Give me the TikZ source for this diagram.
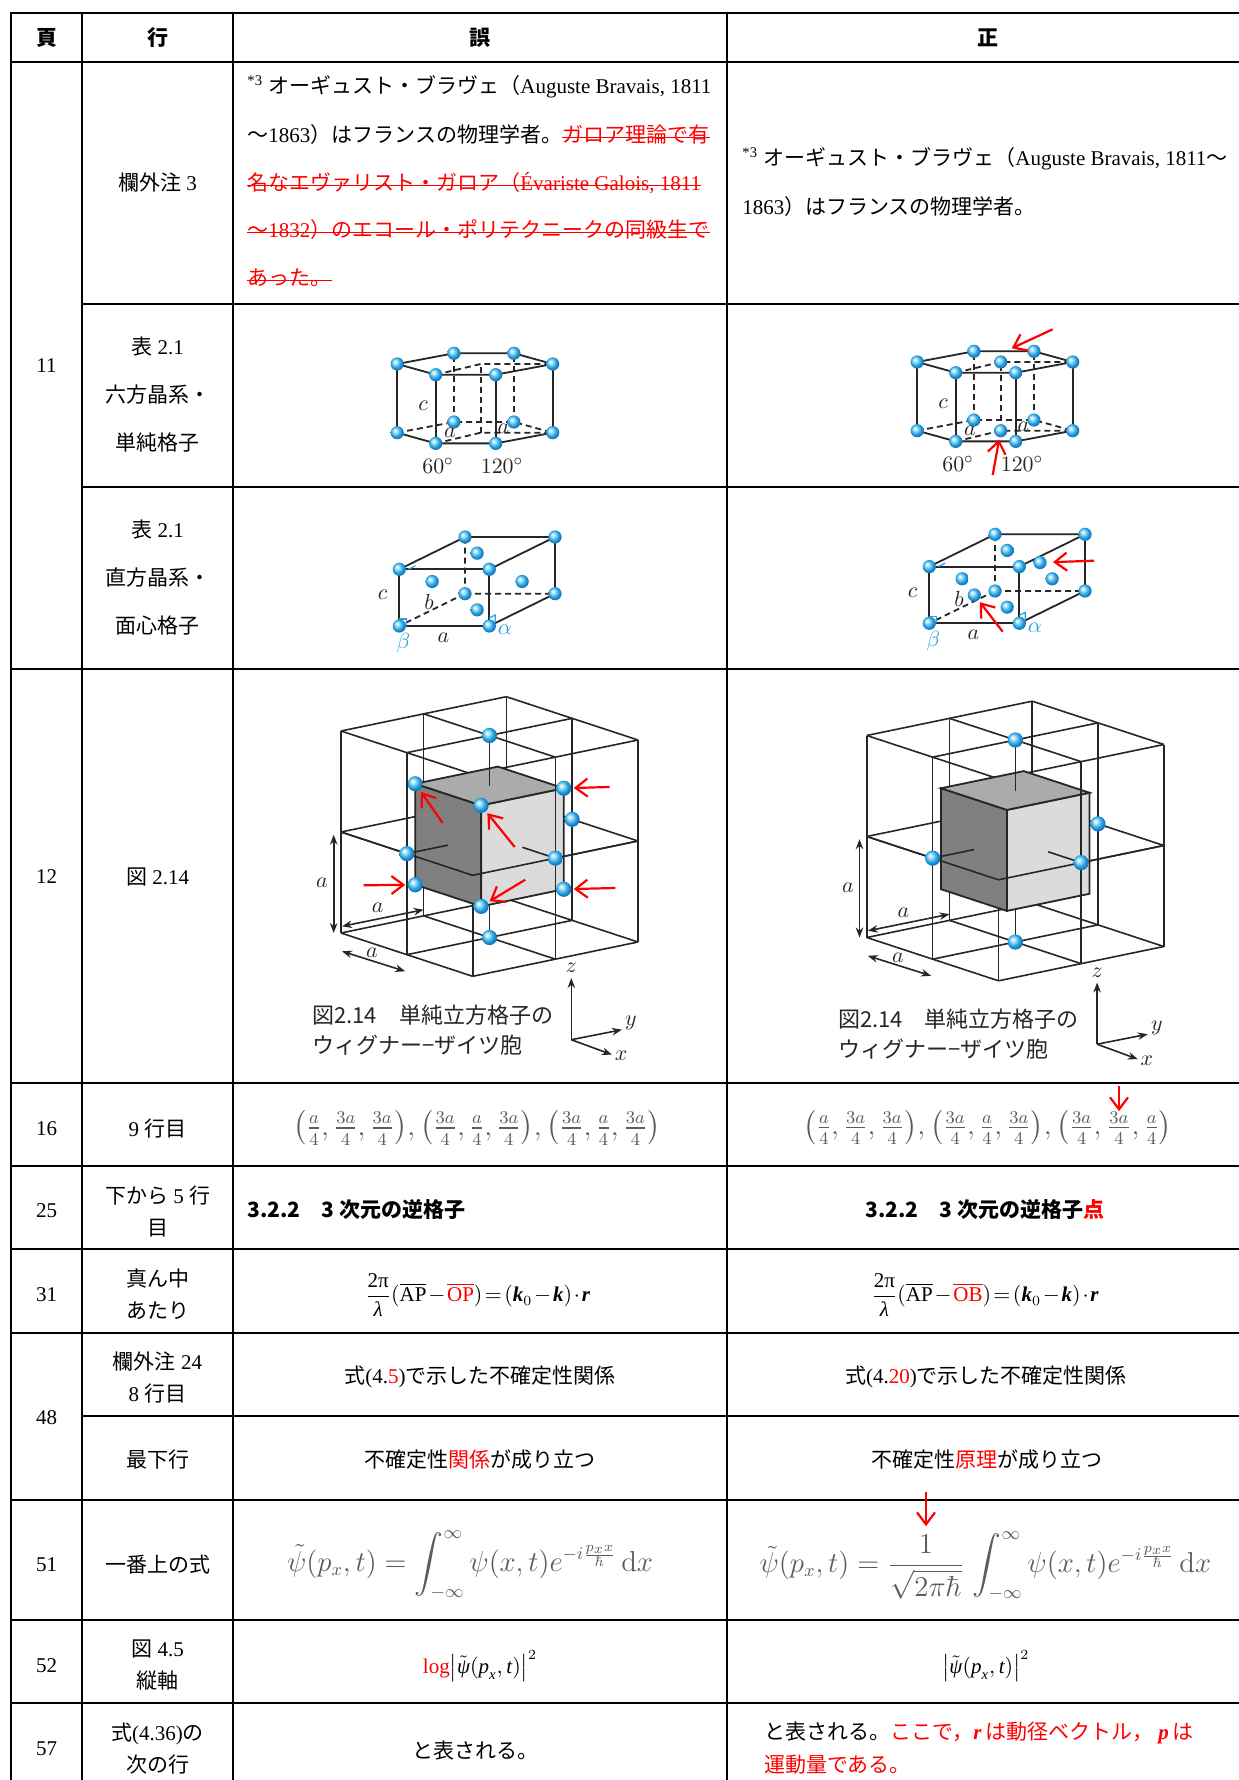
\documentclass[tikz,border=0pt]{standalone}
\usepackage{amsmath}
\usepackage[no-math]{fontspec}
\setmainfont{Liberation Serif}
\newfontfamily\jpfont{Noto Sans CJK JP}
\newcommand{\jp}[1]{{\jpfont #1}}
\newcommand{\ti}[1]{\text{\itshape #1}}
\newcommand{\bi}[1]{\text{\bfseries\itshape #1}}
\usetikzlibrary{arrows.meta,positioning}

\definecolor{ink}{gray}{0.15}
\definecolor{scan}{gray}{0.36}
\definecolor{atomblue}{RGB}{40,165,225}
\definecolor{atomlight}{RGB}{175,228,250}
\definecolor{atomdark}{RGB}{25,120,190}
\definecolor{facedark}{gray}{0.5}
\definecolor{facetop}{gray}{0.67}
\definecolor{facelight}{gray}{0.86}

\pgfdeclareradialshading{atomball}{\pgfqpoint{-9bp}{9bp}}{%
  color(0bp)=(white); color(7bp)=(atomlight); color(18bp)=(atomblue);
  color(25bp)=(atomdark); color(50bp)=(atomdark)}

\tikzset{
  rule/.style={line width=1.3pt, line cap=rect},
  txt/.style={inner sep=0pt, font=\fontsize{10.5pt}{16pt}\selectfont},
  tall/.style={txt, align=center, font=\fontsize{10.5pt}{24pt}\selectfont},
  mid/.style={txt, align=center},
  head/.style={inner sep=0pt, font=\fontsize{10.5pt}{12pt}\selectfont\jpfont\bfseries},
  formula/.style={inner sep=0pt, text=scan, font=\fontsize{13.5pt}{16pt}\selectfont},
  bigformula/.style={formula, font=\fontsize{13.5pt}{16pt}\selectfont},
  strike/.style={draw=red, line width=0.6pt},
  edge/.style={draw=ink, line width=0.9pt},
  hidden/.style={edge, dash pattern=on 3pt off 2pt},
  frame/.style={draw=ink, line width=0.8pt},
  atom/.style={circle, inner sep=0pt, minimum size=6.6pt, shade, shading=atomball},
  wsatom/.style={atom, minimum size=7.6pt},
  lbl/.style={inner sep=0pt, text=ink, font=\fontsize{11pt}{13pt}\selectfont},
  wscaption/.style={inner sep=0pt, text=ink, font=\fontsize{11pt}{13pt}\selectfont\jpfont},
  anglemark/.style={draw=atomblue, line width=0.6pt},
  redarrow/.style={draw=red, line width=1.1pt, -{Straight Barb[length=6pt,width=9pt]}},
  dimarrow/.style={draw=ink, line width=0.8pt, {Stealth[length=5pt]}-{Stealth[length=5pt]}},
  axisarrow/.style={draw=ink, line width=0.8pt, -{Stealth[length=5pt]}},
  ws3d/.style={x={(32.925pt,-10.825pt)}, y={(41.325pt,8.575pt)}, z={(0pt,50.5pt)}},
  % hexagonal prism, origin at the centre of the bottom face
  hexprism/.pic={
    \foreach \n/\u/\v in {L/-83.5/0,BL/-26.8/-10.7,BR/33.2/-10.7,R/72/0,FR/15/10.7,FL/-45/10.7,C/0/0}{
      \coordinate (-b\n) at (\u,\v);
      \coordinate (-t\n) at (\u,\v-68.7);
    }
    % hidden edges
    \draw[hidden] (-bL) -- (-bBL) -- (-bBR) -- (-bR);
    \draw[hidden] (-bFL) -- (-bC) -- (-bR);
    \draw[hidden] (-tFL) -- (-tC) -- (-tR);
    \draw[hidden] (-bBL) -- (-tBL) (-bBR) -- (-tBR) (-bC) -- (-tC);
    % visible edges
    \draw[edge] (-tL) -- (-tBL) -- (-tBR) -- (-tR) -- (-tFR) -- (-tFL) -- cycle;
    \draw[edge] (-bL) -- (-bFL) -- (-bFR) -- (-bR);
    \draw[edge] (-bL) -- (-tL) (-bFL) -- (-tFL) (-bFR) -- (-tFR) (-bR) -- (-tR);
    % atoms on the corners
    \foreach \n in {L,BL,BR,R,FR,FL}{
      \node[atom] (-ab\n) at (-b\n) {};
      \node[atom] (-at\n) at (-t\n) {};
    }
    \node[lbl] (-lc) at (-57.7,-26.7) {$c$};
    \node[lbl] (-la) at (-30.7,0) {$a$};
    \node[lbl] (-lb) at (22.6,-4.4) {$a$};
    \node[lbl] (-l60) at (-42.7,33.3) {$60^\circ$};
    \node[lbl] (-l120) at (21.3,33.3) {$120^\circ$};
  },
  % rectangular box, origin at the front bottom left corner
  orthocell/.pic={
    \coordinate (-fBL) at (0,0);
    \coordinate (-fBR) at (90,0);
    \coordinate (-fTL) at (0,-56.7);
    \coordinate (-fTR) at (90,-56.7);
    \coordinate (-kBL) at (65.7,-32.3);
    \coordinate (-kBR) at (155.7,-32.3);
    \coordinate (-kTL) at (65.7,-89);
    \coordinate (-kTR) at (155.7,-89);
    % hidden edges
    \draw[hidden] (-kBL) -- (-fBL) (-kBL) -- (-kBR) (-kBL) -- (-kTL);
    % visible edges
    \draw[edge] (-fBL) -- (-fBR) -- (-fTR) -- (-fTL) -- cycle;
    \draw[edge] (-fTL) -- (-kTL) -- (-kTR) -- (-fTR);
    \draw[edge] (-kTR) -- (-kBR) -- (-fBR);
    % right angle marks
    \draw[anglemark] (0,-7) -- (7,-7) -- (7,0);
    \draw[anglemark] (90,-8) -- (96,-11) -- (96,-3);
    \draw[anglemark] (9,-56.7) -- (16,-60.2);
    % corner and face atoms
    \foreach \n in {fBL,fBR,fTL,fTR,kBL,kBR,kTL,kTR}
      \node[atom] (-a\n) at (-\n) {};
    \node[atom] (-top) at (77.85,-72.85) {};
    \node[atom] (-bot) at (77.85,-16.15) {};
    \node[atom] (-lft) at (32.85,-44.5) {};
    \node[atom] (-rgt) at (122.85,-44.5) {};
    \node[lbl] (-lc) at (-16.6,-31) {$c$};
    \node[lbl] (-lb) at (29.7,-24.3) {$b$};
    \node[lbl] (-la) at (44,11.3) {$a$};
    \node[lbl, text=atomblue] (-lbeta) at (4,17.3) {$\beta$};
    \node[lbl, text=atomblue] (-lalpha) at (105.7,4) {$\alpha$};
  },
  % eight cubes with the Wigner-Seitz cell, origin at the left bottom corner
  wscell/.pic={
    \begin{scope}[ws3d]
      % lattice lines
      \foreach \p in {0,1,2}{\foreach \q in {0,1,2}{
        \draw[frame] (\p,\q,0) -- (\p,\q,2);
        \draw[frame] (\p,0,\q) -- (\p,2,\q);
        \draw[frame] (0,\p,\q) -- (2,\p,\q);
      }}
      % the cell
      \filldraw[edge, fill=facedark] (0.5,0.5,0.5) -- (1.5,0.5,0.5) -- (1.5,0.5,1.5) -- (0.5,0.5,1.5) -- cycle;
      \filldraw[edge, fill=facelight] (1.5,0.5,0.5) -- (1.5,1.5,0.5) -- (1.5,1.5,1.5) -- (1.5,0.5,1.5) -- cycle;
      \filldraw[edge, fill=facetop] (0.5,0.5,1.5) -- (1.5,0.5,1.5) -- (1.5,1.5,1.5) -- (0.5,1.5,1.5) -- cycle;
      % lines in front of the cell
      \draw[frame] (0,0,1) -- (2,0,1) -- (2,2,1);
      \draw[frame] (2,1,0) -- (2,1,2);
      \draw[frame] (1,1,1.5) -- (1,1,2);
      \draw[frame] (1,0,1) -- (1,0.5,1);
      \draw[frame] (1.5,1,1) -- (2,1,1);
      % nearest neighbours
      \node[wsatom] (-top) at (1,1,2) {};
      \node[wsatom] (-bot) at (1,1,0) {};
      \node[wsatom] (-frt) at (1,0,1) {};
      \node[wsatom] (-bak) at (1,2,1) {};
      \node[wsatom] (-rgt) at (2,1,1) {};
    \end{scope}
    % lattice constant
    \coordinate (-dz0) at (-7.3,-98.3);
    \coordinate (-dz1) at (-7.3,0);
    \coordinate (-dy0) at (1,-6.7);
    \coordinate (-dy1) at (82.7,-23.3);
    \coordinate (-dx0) at (1,18.3);
    \coordinate (-dx1) at (64.3,38.3);
    \draw[dimarrow] (-dz0) -- (-dz1);
    \draw[dimarrow] (-dy0) -- (-dy1);
    \draw[dimarrow] (-dx0) -- (-dx1);
    \node[lbl] (-az) at (-19,-50) {$a$};
    \node[lbl] (-ay) at (36.7,-25) {$a$};
    \node[lbl] (-ax) at (31,20) {$a$};
    % axes
    \coordinate (-o) at (230.3,106.7);
    \coordinate (-ez) at (230.3,45);
    \coordinate (-ey) at (281,96.7);
    \coordinate (-ex) at (271,121.7);
    \draw[axisarrow] (-o) -- (-ez);
    \draw[axisarrow] (-o) -- (-ey);
    \draw[axisarrow] (-o) -- (-ex);
    \node[lbl] (-lz) at (230.3,35) {$z$};
    \node[lbl] (-ly) at (290,90) {$y$};
    \node[lbl] (-lx) at (280,123) {$x$};
    % caption
    \node[wscaption, anchor=west] (-cap1) at (-29,81.7) {図2.14　単純立方格子の};
    \node[wscaption, anchor=west] (-cap2) at (-29,111.7) {ウィグナー−ザイツ胞};
  }
}

\begin{document}
\begin{tikzpicture}[x=0.5pt, y=-0.5pt]
\useasboundingbox (0,0) rectangle (1238,1780);
\fill[white] (0,0) rectangle (1238,1780);

% Table rules
\foreach \y in {13,62,669,1083,1166,1249,1333,1500,1620,1703}
  \draw[rule] (11,\y) -- (1260,\y);
\foreach \y in {304,487,1416}
  \draw[rule] (82,\y) -- (1260,\y);
\foreach \x in {11,82,233,727}
  \draw[rule] (\x,13) -- (\x,1800);

% Header
\node[head] (hPage) at (46.5,37.5) {頁};
\node[head] (hLine) at (157.5,37.5) {行};
\node[head] (hErr) at (480,37.5) {誤};
\node[head] (hCor) at (988,37.5) {正};

% Page numbers
\node[txt] (p11) at (46.5,366) {11};
\node[txt] (p12) at (46.5,877) {12};
\node[txt] (p16) at (46.5,1128.5) {16};
\node[txt] (p25) at (46.5,1211) {25};
\node[txt] (p31) at (46.5,1295) {31};
\node[txt] (p48) at (46.5,1418) {48};
\node[txt] (p51) at (46.5,1565) {51};
\node[txt] (p52) at (46.5,1666) {52};
\node[txt] (p57) at (46.5,1749) {57};

% Line column
\node[txt] (l3) at (157.5,183) {\jp{欄外注} 3};
\node[tall] (lhex) at (157.5,395) {\jp{表} 2.1\\\jp{六方晶系・}\\\jp{単純格子}};
\node[tall] (lfcc) at (157.5,578) {\jp{表} 2.1\\\jp{直方晶系・}\\\jp{面心格子}};
\node[txt] (lws) at (157.5,877) {\jp{図} 2.14};
\node[txt] (l16) at (157.5,1128.5) {9 \jp{行目}};
\node[mid] (l25) at (157.5,1211) {\jp{下から} 5 \jp{行}\\\jp{目}};
\node[mid] (l31) at (157.5,1294.5) {\jp{真ん中}\\\jp{あたり}};
\node[mid] (l48a) at (157.5,1378) {\jp{欄外注} 24\\8 \jp{行目}};
\node[txt] (l48b) at (157.5,1460) {\jp{最下行}};
\node[txt] (l51) at (157.5,1565) {\jp{一番上の式}};
\node[mid] (l52) at (157.5,1665) {\jp{図} 4.5\\\jp{縦軸}};
\node[mid] (l57) at (157.5,1749) {\jp{式}(4.36)\jp{の}\\\jp{次の行}};

% Footnote 3, wrong
\node[txt, anchor=west] (err3a) at (247,87) {\textsuperscript{*3}\ \jp{オーギュスト・ブラヴェ（}Auguste Bravais, 1811};
\node[txt, anchor=west] (err3b) at (247,135) {\jp{～}1863\jp{）はフランスの物理学者。}};
\node[txt, anchor=base west, text=red] (err3bx) at (err3b.base east) {\jp{ガロア理論で有}};
\node[txt, anchor=west, text=red] (err3c) at (247,183) {\jp{名なエヴァリスト・ガロア（}Évariste Galois, 1811};
\node[txt, anchor=west, text=red] (err3d) at (247,230) {\jp{～}1832\jp{）のエコール・ポリテクニークの同級生で}};
\node[txt, anchor=west, text=red] (err3e) at (247,278) {\jp{あった。}};
\foreach \n in {err3bx,err3c,err3d,err3e}
  \draw[strike] ([yshift=-1.4pt]\n.west) -- ([yshift=-1.4pt]\n.east);

% Footnote 3, correct
\node[txt, anchor=west] (cor3a) at (742,159) {\textsuperscript{*3}\ \jp{オーギュスト・ブラヴェ（}Auguste Bravais, 1811\jp{～}};
\node[txt, anchor=west] (cor3b) at (742,206.6) {1863\jp{）はフランスの物理学者。}};

% Hexagonal cells
\pic (hexErr) at (480.7,432.7) {hexprism};
\pic (hexCor) at (1000.7,430.7) {hexprism};
\node[atom] (hexCorT) at (hexCor-tC) {};
\node[atom] (hexCorB) at (hexCor-bC) {};
\coordinate (hexTail1) at (1052.7,329.3);
\coordinate (hexTip1) at (1011.7,348.3);
\coordinate (hexTail2) at (992.7,475);
\draw[redarrow] (hexTail1) -- (hexTip1);
\draw[redarrow, shorten >=1pt] (hexTail2) -- (hexCorB);

% Face centred cells
\pic (fccErr) at (399.3,626) {orthocell};
\pic (fccCor) at (929.3,623.3) {orthocell};
\node[atom] (fccCorF) at (974.3,595) {};
\node[atom] (fccCorK) at (1040,562.6) {};
\coordinate (fccTail1) at (1094,560.7);
\coordinate (fccTail2) at (1002.7,631.7);
\draw[redarrow, shorten >=3pt] (fccTail1) -- (fccCorK);
\draw[redarrow, shorten >=1pt] (fccTail2) -- (fccCorF);

% Wigner-Seitz cells
\pic (wsErr) at (341,933) {wscell};
\pic (wsCor) at (866.8,937.5) {wscell};
\begin{scope}[shift={(341,933)}, ws3d]
  \foreach \i/\a/\b/\c in {1/0.5/0.5/1.5, 2/1.5/0.5/1.5, 3/1.5/1.5/1.5, 4/0.5/0.5/0.5, 5/1.5/0.5/0.5, 6/1.5/1.5/0.5}
    \node[wsatom] (wsc\i) at (\a,\b,\c) {};
\end{scope}
\foreach \i/\u/\v in {1/442.7/823, 2/514.7/847, 3/609.7/787, 4/363.7/885.3, 5/525.3/879.7, 6/615.3/888}{
  \coordinate (wst\i) at (\u,\v);
  \draw[redarrow, shorten >=1pt] (wst\i) -- (wsc\i);
}

% Row 16
\node[formula] (err16) at (477,1128) {$\bigl(\frac{a}{4},\frac{3a}{4},\frac{3a}{4}\bigr),\bigl(\frac{3a}{4},\frac{a}{4},\frac{3a}{4}\bigr),\bigl(\frac{3a}{4},\frac{a}{4},\frac{3a}{4}\bigr)$};
\node[formula] (cor16b) at (1119,1128) {$\frac{3a}{4}$};
\node[formula, anchor=base east] (cor16a) at (cor16b.base west) {$\bigl(\frac{a}{4},\frac{3a}{4},\frac{3a}{4}\bigr),\bigl(\frac{3a}{4},\frac{a}{4},\frac{3a}{4}\bigr),\bigl(\frac{3a}{4},\,$};
\node[formula, anchor=base west] (cor16c) at (cor16b.base east) {$,\frac{a}{4}\bigr)$};
\draw[redarrow] (cor16b.north) ++(0,-25) -- (cor16b.north);

% Row 25
\node[txt, anchor=west] (err25) at (247,1210) {\jpfont\bfseries 3.2.2　3 次元の逆格子};
\node[txt] (cor25) at (985,1210) {\jpfont\bfseries 3.2.2　3 次元の逆格子\textcolor{red}{点}};

% Row 31
\node[txt] (err31) at (477.6,1295) {\thickmuskip=2mu\medmuskip=1.5mu$\dfrac{\text{2π}}{\ti{λ}}(\overline{\text{AP}}-\textcolor{red}{\overline{\text{OP}}})=(\bi{k}_{0}-\bi{k})\cdot\bi{r}$};
\node[txt] (cor31) at (985,1295) {\thickmuskip=2mu\medmuskip=1.5mu$\dfrac{\text{2π}}{\ti{λ}}(\overline{\text{AP}}-\textcolor{red}{\overline{\text{OB}}})=(\bi{k}_{0}-\bi{k})\cdot\bi{r}$};

% Row 48
\node[txt] (err48a) at (480,1377) {\jp{式}(4.\textcolor{red}{5})\jp{で示した不確定性関係}};
\node[txt] (cor48a) at (986,1377) {\jp{式}(4.\textcolor{red}{20})\jp{で示した不確定性関係}};
\node[txt] (err48b) at (480,1460) {\jp{不確定性\textcolor{red}{関係}が成り立つ}};
\node[txt] (cor48b) at (986.5,1460) {\jp{不確定性\textcolor{red}{原理}が成り立つ}};

% Row 51
\node[bigformula] (err51) at (470,1565) {$\displaystyle\tilde{\psi}(p_x,t)=\int_{-\infty}^{\infty}\psi(x,t)e^{-i\frac{p_x x}{\hbar}}\,\mathrm{d}x$};
\node[bigformula] (cor51b) at (926,1567) {$\dfrac{1}{\sqrt{2\pi\hbar}}$};
\node[bigformula, anchor=base east] (cor51a) at (cor51b.base west) {$\tilde{\psi}(p_x,t)={}$};
\node[bigformula, anchor=base west] (cor51c) at (cor51b.base east) {$\displaystyle\;\int_{-\infty}^{\infty}\psi(x,t)e^{-i\frac{p_x x}{\hbar}}\,\mathrm{d}x$};
\draw[redarrow, shorten >=4pt] (cor51b.north) ++(0,-42) -- (cor51b.north);

% Row 52
\node[txt] (err52) at (480,1666) {\textcolor{red}{log}$\left|\tilde{\ti{ψ}}(\ti{p}_{\ti{x}},\ti{t})\right|^{2}$};
\node[txt] (cor52) at (985.8,1666) {$\left|\tilde{\ti{ψ}}(\ti{p}_{\ti{x}},\ti{t})\right|^{2}$};

% Row 57
\node[txt] (err57) at (475.5,1750) {\jp{と表される。}};
\node[txt, anchor=west] (cor57a) at (763.7,1733) {\jp{と表される。}{\color{red}\jp{ここで，}\textbf{\textit{r}}\,\jp{は動径ベクトル，}\ \textbf{\textit{p}}\,\jp{は}}};
\node[txt, anchor=west, text=red] (cor57b) at (763.7,1765) {\jp{運動量である。}};
\end{tikzpicture}
\end{document}
